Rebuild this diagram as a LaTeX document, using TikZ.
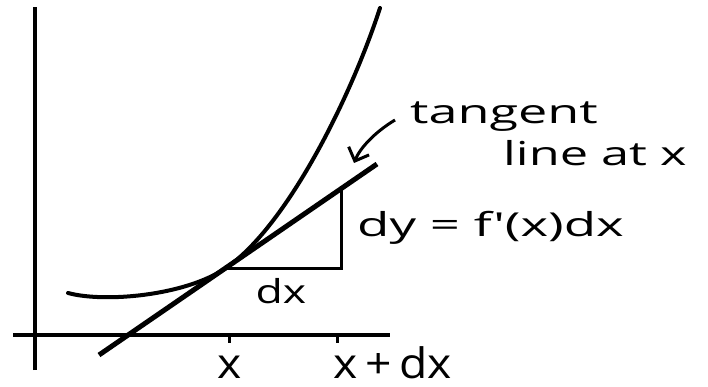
\documentclass[tikz,border=0pt]{standalone}
\usepackage{graphicx}
\usepackage{fontspec}
\setmainfont{Open Sans}
\usetikzlibrary{arrows.meta}
\newcommand{\handtext}[2]{\scalebox{#1}[1]{#2}}
\begin{document}
\begin{tikzpicture}[x=1pt,y=-1pt,
  axis/.style={line width=4pt},
  curvestyle/.style={line width=4pt,line cap=round},
  tanline/.style={line width=5pt},
  tri/.style={line width=3pt},
  hand/.style={font=\fontsize{33}{36}\selectfont,inner sep=0pt,anchor=base west},
  big/.style={font=\fontsize{42}{46}\selectfont,inner sep=0pt,anchor=base},
]
\useasboundingbox (0,0) rectangle (708,387);
% axes
\coordinate (yb) at (35,370);
\coordinate (yt) at (35,7);
\coordinate (xl) at (13,335);
\coordinate (xr) at (390,335);
\draw[axis] (yb) -- (yt);
\draw[axis] (xl) -- (xr);
% ticks
\coordinate (t1) at (229,335);
\coordinate (t1b) at (229,343);
\coordinate (t2) at (337,335);
\coordinate (t2b) at (337,343);
\draw[tri] (t1) -- (t1b);
\draw[tri] (t2) -- (t2b);
% curve
\coordinate (A) at (68,293);
\coordinate (T) at (226,268);
\coordinate (E) at (380,8);
\draw[curvestyle] (A) .. controls (105,303) and (186,295.5) .. (T)
  .. controls (286,227) and (350,100) .. (E);
% tangent line
\coordinate (L1) at (99,355);
\coordinate (L2) at (377,164);
\draw[tanline] (L1) -- (L2);
% triangle
\coordinate (R) at (341,268);
\coordinate (Q) at (341,189);
\draw[tri] (T) -- (R) -- (Q);
% labels
\node[big] (lx) at (230,378) {\handtext{1.1}{x}};
\node[big,anchor=base west] (lxdx) at (333,378) {\handtext{1.1}{x\,+\,dx}};
\node[hand,anchor=base] (ldx) at (281,303) {\handtext{1.35}{dx}};
\node[hand] (ldy) at (357,236) {\handtext{1.6}{dy = f\kern1pt′(x)dx}};
\node[hand] (ltan) at (410,124) {\handtext{1.58}{tangent}};
\node[hand] (lline) at (503,166) {\handtext{1.53}{line at x}};
% arrow
\coordinate (a1) at (395,120);
\coordinate (a2) at (354,163);
\draw[line width=3pt,-{Straight Barb[length=11pt,width=22pt,line width=3pt]}] (a1) .. controls (375,132) and (360,148) .. (a2);
\end{tikzpicture}
\end{document}
